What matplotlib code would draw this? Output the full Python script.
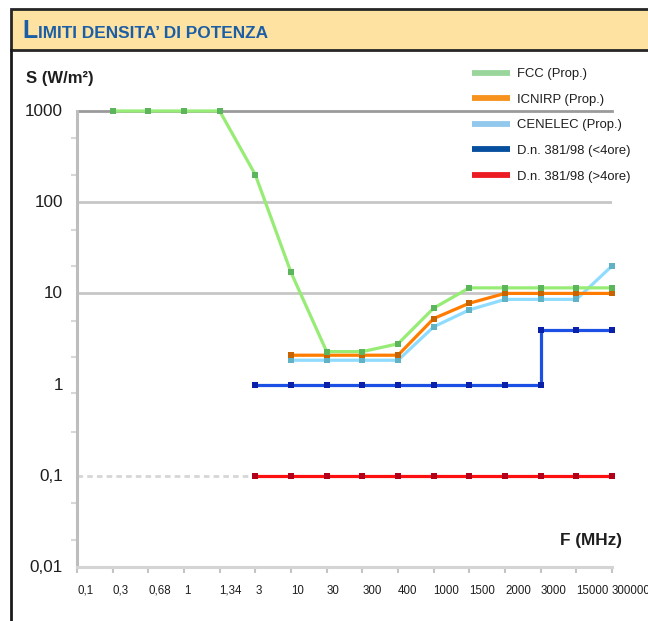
import numpy as np
import matplotlib
matplotlib.use("Agg")
import matplotlib.pyplot as plt
from matplotlib.lines import Line2D
from matplotlib.patches import Rectangle
from matplotlib.transforms import ScaledTranslation
from matplotlib.ticker import FixedLocator, NullFormatter

# ---------------- data ----------------
categories = ['0,1', '0,3', '0,68', '1', '1,34', '3', '10', '30', '300', '400',
              '1000', '1500', '2000', '3000', '15000', '300000']

fcc_x = ['0,3', '0,68', '1', '1,34', '3', '10', '30', '300', '400', '1000',
         '1500', '2000', '3000', '15000', '300000']
fcc_values = [1000, 1000, 1000, 1000, 200, 17, 2.3, 2.3, 2.8, 6.9,
              11.5, 11.5, 11.5, 11.5, 11.5]

icnirp_x = ['10', '30', '300', '400', '1000', '1500', '2000', '3000', '15000', '300000']
icnirp_values = [2.1, 2.1, 2.1, 2.1, 5.3, 7.8, 10, 10, 10, 10]

cenelec_x = ['10', '30', '300', '400', '1000', '1500', '2000', '3000', '15000', '300000']
cenelec_values = [1.85, 1.85, 1.85, 1.85, 4.3, 6.6, 8.6, 8.6, 8.6, 20]

dn_lt4_x = ['3', '10', '30', '300', '400', '1000', '1500', '2000', '3000', '3000',
            '15000', '300000']
dn_lt4_values = [1, 1, 1, 1, 1, 1, 1, 1, 1, 4, 4, 4]

dn_gt4_x = ['3', '10', '30', '300', '400', '1000', '1500', '2000', '3000',
            '15000', '300000']
dn_gt4_values = [0.1] * 11

series_labels = ['FCC (Prop.)', 'ICNIRP (Prop.)', 'CENELEC (Prop.)',
                 'D.n. 381/98 (<4ore)', 'D.n. 381/98 (>4ore)']
ytick_values = [0.01, 0.1, 1, 10, 100, 1000]
ytick_labels = ['0,01', '0,1', '1', '10', '100', '1000']
title_first = 'L'
title_rest = 'IMITI DENSITA\u2019 DI POTENZA'

# ---------------- fonts ----------------
plt.rcParams['font.family'] = ['Liberation Sans', 'DejaVu Sans']

W, H = 648, 621
fig = plt.figure(figsize=(W / 100, H / 100), dpi=100)
fig.patch.set_facecolor('white')


def fx(px):
    return px / W


def fy(py):
    return 1 - py / H


# ---------------- frame / header ----------------
hdr = Rectangle((fx(11), fy(50)), 1.2, fy(9) - fy(50), transform=fig.transFigure,
                facecolor='#fde2a2', edgecolor='#262626', linewidth=2, clip_on=False)
fig.patches.append(hdr)
fig.lines.append(Line2D([fx(11), fx(11)], [fy(50), -0.05], transform=fig.transFigure,
                        color='#1a1a1a', linewidth=2))

t1 = fig.text(fx(22), fy(38), title_first, fontsize=18, fontweight='bold',
              color='#1b5ea6', va='baseline', ha='left')
fig.canvas.draw()
bb = t1.get_window_extent()
fig.text(bb.x1 / W + 0.001, fy(38), title_rest, fontsize=12.4, fontweight='bold',
         color='#1b5ea6', va='baseline', ha='left')

# ---------------- axes ----------------
ax = fig.add_axes([fx(77), fy(567), fx(612) - fx(77), fy(111) - fy(567)])
ax.set_yscale('log')
ax.set_ylim(0.01, 1000)
ax.set_xlim(0, len(categories) - 1)
pos = {c: i for i, c in enumerate(categories)}

for s in ['top', 'right']:
    ax.spines[s].set_visible(False)
ax.spines['left'].set_color('#bdbdbd')
ax.spines['left'].set_linewidth(2.2)
ax.spines['bottom'].set_color('#d4d4d4')
ax.spines['bottom'].set_linewidth(2.2)
ax.spines['bottom'].set_linestyle((0, (2, 1)))

# horizontal grid lines
ax.axhline(1000, color='#9a9a9a', lw=2, zorder=1, clip_on=False)
for v in (100, 10):
    ax.axhline(v, color='#c6c6c6', lw=2, zorder=1)
ax.axhline(0.1, color='#d6d6d6', lw=2, ls=(0, (2, 1.5)), zorder=1)


def plot_series(xs, ys, lc, mc, z):
    xi = [pos[c] for c in xs]
    ax.plot(xi, ys, color=lc, lw=2.3, marker='s', ms=4.6, mfc=mc, mec=mc,
            mew=0, zorder=z, clip_on=False, solid_joinstyle='miter')


plot_series(dn_gt4_x, dn_gt4_values, '#ff1010', '#b0001a', 3)
plot_series(dn_lt4_x, dn_lt4_values, '#1c4fe4', '#0a20a8', 4)
plot_series(cenelec_x, cenelec_values, '#8fdcff', '#62b2c6', 5)
plot_series(icnirp_x, icnirp_values, '#ff7c00', '#c86400', 6)
plot_series(fcc_x, fcc_values, '#96ec74', '#5cb45c', 7)

# y ticks
ax.yaxis.set_major_locator(FixedLocator(ytick_values))
ax.set_yticklabels(ytick_labels)
ax.yaxis.set_minor_locator(FixedLocator([0.02, 0.05, 0.3, 0.8, 2, 5, 20, 50, 200, 500]))
ax.yaxis.set_minor_formatter(NullFormatter())
ax.tick_params(axis='y', which='major', length=0, pad=10, labelsize=12.3,
               labelcolor='#1e1e1e')
ax.tick_params(axis='y', which='minor', length=4, width=1.5, color='#d8d8d8',
               direction='out')
off = ScaledTranslation(0, 1 / 100, fig.dpi_scale_trans)
for lab in ax.get_yticklabels():
    lab.set_transform(lab.get_transform() + off)

# x ticks
ax.set_xticks(range(len(categories)))
ax.set_xticklabels(categories, ha='left')
ax.tick_params(axis='x', length=4, width=1.5, color='#c4c4c4', pad=8.8,
               labelsize=8.3, labelcolor='#1e1e1e')

# axis titles
fig.text(fx(26), fy(78), 'S (W/m\u00b2)', fontsize=12.0, fontweight='bold',
         color='#1e1e1e', ha='left', va='center')
fig.text(fx(591), fy(540), 'F (MHz)', fontsize=12.4, fontweight='bold',
         color='#1e1e1e', ha='center', va='center')

# legend
leg_fs = 9.4
leg_colors = ['#9ad69c', '#f7921e', '#92c8ec', '#064f9e', '#ec1c24']
handles = [Line2D([0], [0], color=c, lw=4.2, solid_capstyle='butt') for c in leg_colors]
px_em = leg_fs * 100 / 72
leg = fig.legend(handles, series_labels, loc='upper left',
                 bbox_to_anchor=(fx(472), fy(68)), bbox_transform=fig.transFigure,
                 frameon=False, fontsize=leg_fs, handlelength=38 / px_em,
                 handletextpad=7 / px_em, labelspacing=(25.75 - 0.94 * px_em) / px_em,
                 borderpad=0, borderaxespad=0)
for t in leg.get_texts():
    t.set_color('#1e1e1e')

fig.savefig('out.png', dpi=100, facecolor='white')
